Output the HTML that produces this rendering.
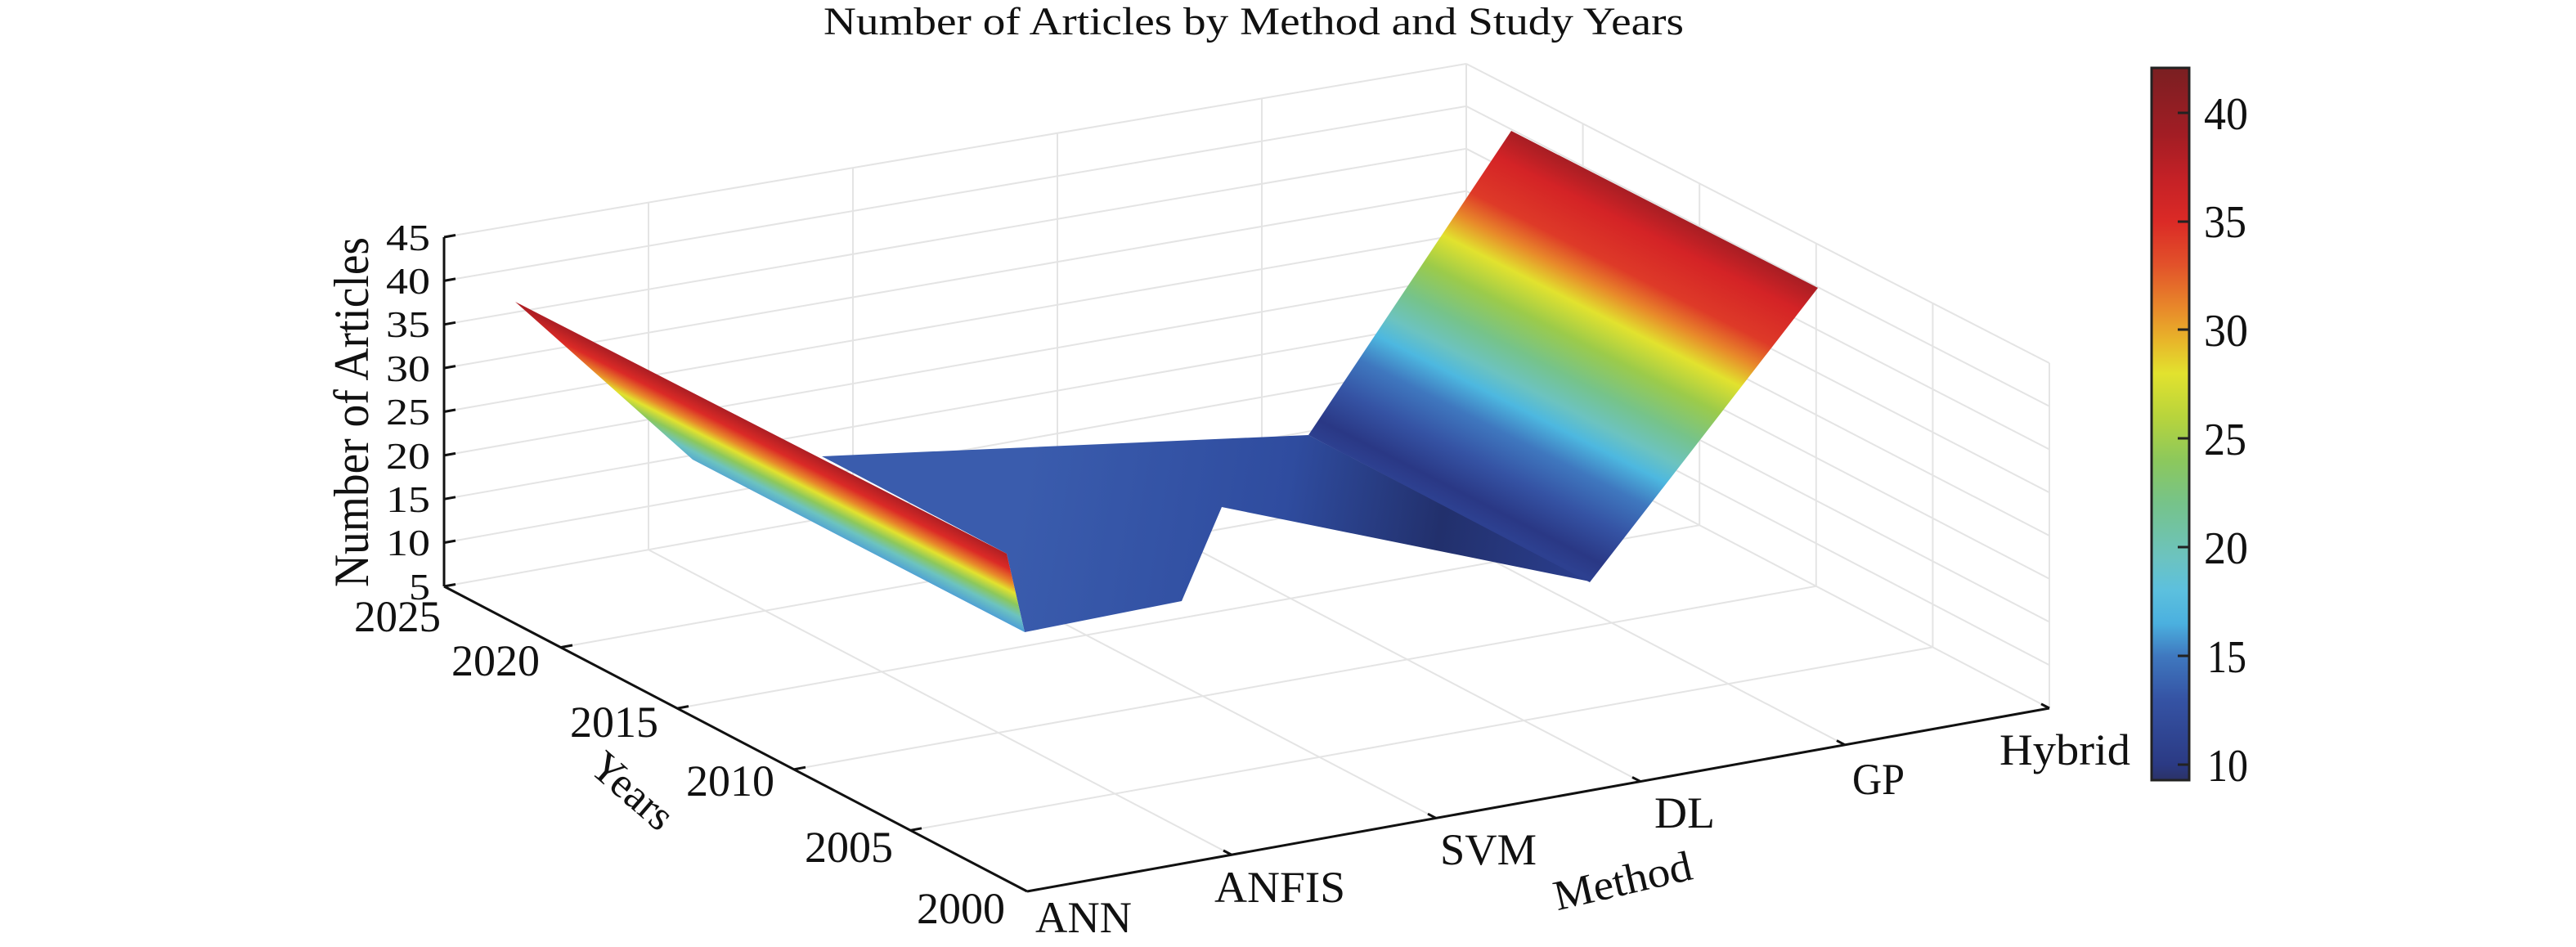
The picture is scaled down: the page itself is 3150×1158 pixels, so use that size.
<!DOCTYPE html>
<html><head><meta charset="utf-8"><style>
html,body{margin:0;padding:0;background:#fff;}
svg{display:block;}
text{font-family:"Liberation Serif",serif;fill:#111;}
</style></head><body>
<svg width="3150" height="1158" viewBox="0 0 3150 1158" xmlns="http://www.w3.org/2000/svg">
<defs>
<linearGradient id="cb" x1="0" y1="0" x2="0" y2="1">
<stop offset="0" stop-color="#7a1f22"/>
<stop offset="0.094" stop-color="#a21d24"/>
<stop offset="0.155" stop-color="#c42126"/>
<stop offset="0.216" stop-color="#db2a26"/>
<stop offset="0.277" stop-color="#e2522a"/>
<stop offset="0.338" stop-color="#e8892a"/>
<stop offset="0.383" stop-color="#e8b52a"/>
<stop offset="0.429" stop-color="#e2e22e"/>
<stop offset="0.490" stop-color="#b8d43c"/>
<stop offset="0.551" stop-color="#8cc85c"/>
<stop offset="0.612" stop-color="#76c38a"/>
<stop offset="0.688" stop-color="#6cc3c0"/>
<stop offset="0.734" stop-color="#5cc0de"/>
<stop offset="0.780" stop-color="#4bb0df"/>
<stop offset="0.826" stop-color="#3f78bf"/>
<stop offset="0.887" stop-color="#3553a4"/>
<stop offset="0.978" stop-color="#2b3a84"/>
<stop offset="1" stop-color="#2b3267"/>
</linearGradient>
<linearGradient id="rp" gradientUnits="userSpaceOnUse" x1="1846" y1="160" x2="1645" y2="555">
<stop offset="0" stop-color="#a81e24"/>
<stop offset="0.08" stop-color="#d42326"/>
<stop offset="0.2" stop-color="#de3a28"/>
<stop offset="0.27" stop-color="#e8892a"/>
<stop offset="0.34" stop-color="#e2e22e"/>
<stop offset="0.43" stop-color="#9ccb4a"/>
<stop offset="0.53" stop-color="#76c38a"/>
<stop offset="0.61" stop-color="#6cc3c0"/>
<stop offset="0.67" stop-color="#4db8e0"/>
<stop offset="0.75" stop-color="#3f78bf"/>
<stop offset="0.85" stop-color="#3553a4"/>
<stop offset="0.95" stop-color="#2a3885"/>
<stop offset="1" stop-color="#2d4090"/>
</linearGradient>
<linearGradient id="ann" gradientUnits="userSpaceOnUse" x1="1229" y1="676" x2="1194" y2="745">
<stop offset="0" stop-color="#b01f24"/>
<stop offset="0.2" stop-color="#db2a26"/>
<stop offset="0.38" stop-color="#e8892a"/>
<stop offset="0.5" stop-color="#e2e22e"/>
<stop offset="0.65" stop-color="#8cc85c"/>
<stop offset="0.8" stop-color="#6cc3c0"/>
<stop offset="1" stop-color="#4a9ad8"/>
</linearGradient>
<linearGradient id="mid" gradientUnits="userSpaceOnUse" x1="1250" y1="600" x2="1950" y2="720">
<stop offset="0" stop-color="#3a5cad"/>
<stop offset="0.45" stop-color="#2f4c9f"/>
<stop offset="0.72" stop-color="#22306c"/>
<stop offset="1" stop-color="#2b3f90"/>
</linearGradient>
</defs>

<text x="1007" y="42" font-size="48" textLength="1052" lengthAdjust="spacingAndGlyphs">Number of Articles by Method and Study Years</text>

<g stroke="#e4e4e4" stroke-width="2" fill="none">
<line x1="543" y1="663.6" x2="1793" y2="441.1"/>
<line x1="543" y1="610.3" x2="1793" y2="389.3"/>
<line x1="543" y1="556.9" x2="1793" y2="337.4"/>
<line x1="543" y1="503.5" x2="1793" y2="285.5"/>
<line x1="543" y1="450.1" x2="1793" y2="233.6"/>
<line x1="543" y1="396.8" x2="1793" y2="181.8"/>
<line x1="543" y1="343.4" x2="1793" y2="129.9"/>
<line x1="543" y1="290" x2="1793" y2="78"/>
<line x1="543" y1="717" x2="1793" y2="493"/>
<line x1="793" y1="672.2" x2="793" y2="247.6"/>
<line x1="1043" y1="627.4" x2="1043" y2="205.2"/>
<line x1="1293" y1="582.6" x2="1293" y2="162.8"/>
<line x1="1543" y1="537.8" x2="1543" y2="120.4"/>
<line x1="1793" y1="493" x2="1793" y2="78"/>
<line x1="1793" y1="441.1" x2="2506" y2="813.25"/>
<line x1="1793" y1="389.3" x2="2506" y2="760.5"/>
<line x1="1793" y1="337.4" x2="2506" y2="707.75"/>
<line x1="1793" y1="285.5" x2="2506" y2="655"/>
<line x1="1793" y1="233.6" x2="2506" y2="602.25"/>
<line x1="1793" y1="181.8" x2="2506" y2="549.5"/>
<line x1="1793" y1="129.9" x2="2506" y2="496.75"/>
<line x1="1793" y1="78" x2="2506" y2="444"/>
<line x1="1935.6" y1="567.6" x2="1935.6" y2="151.2"/>
<line x1="2078.2" y1="642.2" x2="2078.2" y2="224.4"/>
<line x1="2220.8" y1="716.8" x2="2220.8" y2="297.6"/>
<line x1="2363.4" y1="791.4" x2="2363.4" y2="370.8"/>
<line x1="2506" y1="866" x2="2506" y2="444"/>
<line x1="793" y1="672.2" x2="1506" y2="1045.2"/>
<line x1="1043" y1="627.4" x2="1756" y2="1000.4"/>
<line x1="1293" y1="582.6" x2="2006" y2="955.6"/>
<line x1="1543" y1="537.8" x2="2256" y2="910.8"/>
<line x1="1793" y1="493" x2="2506" y2="866"/>
<line x1="685.6" y1="791.6" x2="1935.6" y2="567.6"/>
<line x1="828.2" y1="866.2" x2="2078.2" y2="642.2"/>
<line x1="970.8" y1="940.8" x2="2220.8" y2="716.8"/>
<line x1="1113.4" y1="1015.4" x2="2363.4" y2="791.4"/>
</g>

<polygon points="1005,558 1600,532 1944,711 1494,620 1445,735 1253,773 1231,677" fill="url(#mid)"/>
<polygon points="1848,160 2223,352 1944,712 1600,532" fill="url(#rp)"/>
<polygon points="630,369 1231,677 1253,773 847,562" fill="url(#ann)"/>

<g stroke="#111" stroke-width="3" fill="none">
<line x1="543" y1="717" x2="543" y2="290"/>
<line x1="543" y1="717" x2="1256" y2="1090"/>
<line x1="1256" y1="1090" x2="2506" y2="866"/>
<line x1="543" y1="717" x2="557" y2="714.5"/>
<line x1="543" y1="663.6" x2="557" y2="661.1"/>
<line x1="543" y1="610.3" x2="557" y2="607.8"/>
<line x1="543" y1="556.9" x2="557" y2="554.4"/>
<line x1="543" y1="503.5" x2="557" y2="501"/>
<line x1="543" y1="450.1" x2="557" y2="447.6"/>
<line x1="543" y1="396.8" x2="557" y2="394.3"/>
<line x1="543" y1="343.4" x2="557" y2="340.9"/>
<line x1="543" y1="290" x2="557" y2="287.5"/>
<line x1="685.6" y1="791.6" x2="700" y2="789"/>
<line x1="828.2" y1="866.2" x2="842" y2="863.6"/>
<line x1="970.8" y1="940.8" x2="985" y2="938.2"/>
<line x1="1113.4" y1="1015.4" x2="1127" y2="1012.8"/>
<line x1="1506" y1="1045.2" x2="1496" y2="1040"/>
<line x1="1756" y1="1000.4" x2="1746" y2="995.2"/>
<line x1="2006" y1="955.6" x2="1996" y2="950.4"/>
<line x1="2256" y1="910.8" x2="2246" y2="905.6"/>
<line x1="2506" y1="866" x2="2496" y2="860.8"/>
</g>

<g font-size="46" text-anchor="end">
<text x="526" y="733" textLength="26" lengthAdjust="spacingAndGlyphs">5</text>
<text x="526" y="679" textLength="54" lengthAdjust="spacingAndGlyphs">10</text>
<text x="526" y="626" textLength="54" lengthAdjust="spacingAndGlyphs">15</text>
<text x="526" y="573" textLength="54" lengthAdjust="spacingAndGlyphs">20</text>
<text x="526" y="519" textLength="54" lengthAdjust="spacingAndGlyphs">25</text>
<text x="526" y="466" textLength="54" lengthAdjust="spacingAndGlyphs">30</text>
<text x="526" y="412" textLength="54" lengthAdjust="spacingAndGlyphs">35</text>
<text x="526" y="359" textLength="54" lengthAdjust="spacingAndGlyphs">40</text>
<text x="526" y="306" textLength="54" lengthAdjust="spacingAndGlyphs">45</text>
</g>
<text transform="translate(450,504) rotate(-90)" font-size="60" text-anchor="middle" textLength="428" lengthAdjust="spacingAndGlyphs">Number of Articles</text>

<g font-size="54" text-anchor="end">
<text x="539" y="772" textLength="106" lengthAdjust="spacingAndGlyphs">2025</text>
<text x="660" y="826" textLength="108" lengthAdjust="spacingAndGlyphs">2020</text>
<text x="805" y="901" textLength="108" lengthAdjust="spacingAndGlyphs">2015</text>
<text x="947" y="973" textLength="108" lengthAdjust="spacingAndGlyphs">2010</text>
<text x="1092" y="1054" textLength="108" lengthAdjust="spacingAndGlyphs">2005</text>
<text x="1229" y="1129" textLength="108" lengthAdjust="spacingAndGlyphs">2000</text>
</g>
<text transform="translate(762,980) rotate(41)" font-size="52" text-anchor="middle">Years</text>

<g font-size="54">
<text x="1266" y="1140" textLength="118" lengthAdjust="spacingAndGlyphs">ANN</text>
<text x="1485" y="1103" textLength="160" lengthAdjust="spacingAndGlyphs">ANFIS</text>
<text x="1761" y="1057" textLength="118" lengthAdjust="spacingAndGlyphs">SVM</text>
<text x="2023" y="1012" textLength="74" lengthAdjust="spacingAndGlyphs">DL</text>
<text x="2265" y="971" textLength="64" lengthAdjust="spacingAndGlyphs">GP</text>
<text x="2445" y="935" textLength="160" lengthAdjust="spacingAndGlyphs">Hybrid</text>
</g>
<text transform="translate(1988,1094) rotate(-13)" font-size="52" text-anchor="middle" textLength="172" lengthAdjust="spacingAndGlyphs">Method</text>

<rect x="2631" y="83" width="46" height="871" fill="url(#cb)" stroke="#222" stroke-width="3"/>
<g stroke="#222" stroke-width="3">
<line x1="2663" y1="138" x2="2677" y2="138"/>
<line x1="2663" y1="271" x2="2677" y2="271"/>
<line x1="2663" y1="403" x2="2677" y2="403"/>
<line x1="2663" y1="536" x2="2677" y2="536"/>
<line x1="2663" y1="669" x2="2677" y2="669"/>
<line x1="2663" y1="802" x2="2677" y2="802"/>
<line x1="2663" y1="935" x2="2677" y2="935"/>
</g>
<g font-size="56">
<text x="2695" y="158" textLength="54" lengthAdjust="spacingAndGlyphs">40</text>
<text x="2695" y="290" textLength="52" lengthAdjust="spacingAndGlyphs">35</text>
<text x="2695" y="423" textLength="54" lengthAdjust="spacingAndGlyphs">30</text>
<text x="2695" y="556" textLength="52" lengthAdjust="spacingAndGlyphs">25</text>
<text x="2695" y="689" textLength="54" lengthAdjust="spacingAndGlyphs">20</text>
<text x="2699" y="822" textLength="48" lengthAdjust="spacingAndGlyphs">15</text>
<text x="2699" y="955" textLength="50" lengthAdjust="spacingAndGlyphs">10</text>
</g>
</svg>
</body></html>
